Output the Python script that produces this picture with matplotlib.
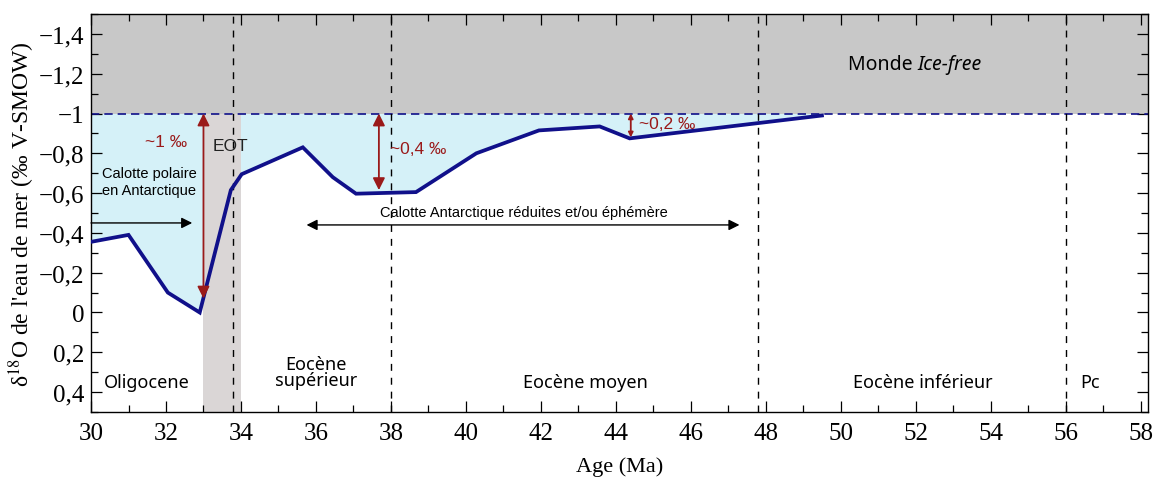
import matplotlib
matplotlib.use("Agg")
import matplotlib.pyplot as plt
from matplotlib.ticker import MultipleLocator, FixedLocator, FixedFormatter

# ---- data ----
age = [30.0, 31.0, 32.05, 32.9, 33.73, 34.02, 35.65, 36.45, 37.07, 38.67, 40.28, 41.95, 43.57, 44.37, 49.5]
d18o = [-0.355, -0.39, -0.10, 0.0, -0.615, -0.695, -0.83, -0.68, -0.597, -0.605, -0.80, -0.915, -0.935, -0.875, -0.99]

x_ticks = [30, 32, 34, 36, 38, 40, 42, 44, 46, 48, 50, 52, 54, 56, 58]
y_ticks = [-1.4, -1.2, -1.0, -0.8, -0.6, -0.4, -0.2, 0.0, 0.2, 0.4]
y_tick_labels = ["\u22121,4", "\u22121,2", "\u22121", "\u22120,8", "\u22120,6", "\u22120,4", "\u22120,2", "0", "0,2", "0,4"]

ice_free_level = -1.0
eot_band = (33.0, 34.0)
boundaries = [33.8, 38.0, 47.8, 56.0]

epochs = ["Oligocene", "Eoc\u00e8ne\nsup\u00e9rieur", "Eoc\u00e8ne moyen", "Eoc\u00e8ne inf\u00e9rieur", "Pc"]
epoch_x = [31.5, 36.0, 43.2, 52.2, 56.65]

# amplitude arrows
amp_x = [33.0, 37.68, 44.4]
amp_bottom = [-0.07, -0.615, -0.88]
amp_labels = ["~1 \u2030", "~0,4 \u2030", "~0,2 \u2030"]
amp_label_x = [32.0, 38.72, 45.37]
amp_label_y = [-0.86, -0.825, -0.95]

# ---- style ----
navy = "#10108a"
red = "#9a1a1a"
sans = ["Liberation Sans", "DejaVu Sans"]
epoch_font = ["Noto Sans", "DejaVu Sans"]
serif = ["Liberation Serif", "DejaVu Serif"]
plt.rcParams["mathtext.fontset"] = "stix"

fig = plt.figure(figsize=(11.58, 4.81), dpi=100)
ax = fig.add_axes([0.0786, 0.1414, 0.9128, 0.8274])

ax.set_xlim(30, 58.2)
ax.set_ylim(0.5, -1.5)

# ice-free grey zone
ax.axhspan(-1.5, ice_free_level, color="#c8c8c8", zorder=0, lw=0)
# EOT band
ax.axvspan(eot_band[0], eot_band[1], ymin=0, ymax=0.75, color="#dad6d6", zorder=0.5, lw=0)
# cyan fill between curve and -1
ax.fill_between(age, d18o, ice_free_level, color="#d5f1f8", zorder=0.4, lw=0)
# -1 dashed line
ax.axhline(ice_free_level, color=navy, ls=(0, (5, 3)), lw=1.2, zorder=2)
# boundaries
for b in boundaries:
    ax.axvline(b, color="black", ls=(0, (5, 5)), lw=1.0, zorder=2)

# main curve
ax.plot(age, d18o, color=navy, lw=2.7, zorder=4, solid_joinstyle="miter")

# amplitude arrows
for x, yb, lab, lx, ly in zip(amp_x, amp_bottom, amp_labels, amp_label_x, amp_label_y):
    short = abs(yb - ice_free_level) < 0.2
    ax.annotate("", xy=(x, yb), xytext=(x, ice_free_level),
                arrowprops=dict(arrowstyle="<|-|>", color=red, lw=1.3,
                                mutation_scale=7 if short else 18,
                                shrinkA=0, shrinkB=0), zorder=5)
    ax.text(lx, ly, lab, color=red, fontsize=12.5, family=sans, ha="center", va="center", zorder=6)

ax.text(33.72, -0.84, "EOT", fontsize=12.5, family=sans, ha="center", va="center", color="#222222")
ax.text(31.55, -0.66, "Calotte polaire\nen Antarctique", fontsize=10.5, family=sans,
        ha="center", va="center", linespacing=1.25)
ax.annotate("", xy=(32.7, -0.45), xytext=(30.0, -0.45),
            arrowprops=dict(arrowstyle="-|>", color="black", lw=1.0, mutation_scale=16,
                            shrinkA=0, shrinkB=0))
ax.annotate("", xy=(35.75, -0.44), xytext=(47.3, -0.44),
            arrowprops=dict(arrowstyle="<|-|>", color="black", lw=1.0, mutation_scale=16,
                            shrinkA=0, shrinkB=0))
ax.text(41.55, -0.505, "Calotte Antarctique r\u00e9duites et/ou \u00e9ph\u00e9m\u00e8re", fontsize=10.5,
        family=sans, ha="center", va="center")

ax.text(52.05, -1.25, "Monde ", fontsize=14, family=epoch_font, ha="right", va="center")
ax.text(52.05, -1.25, "Ice-free", fontsize=14, family=epoch_font, style="italic", ha="left", va="center")

for lab, x in zip(epochs, epoch_x):
    ax.text(x, 0.35 if "\n" not in lab else 0.30, lab, fontsize=13, family=epoch_font,
            ha="center", va="center", linespacing=0.9)

# ticks
ax.xaxis.set_major_locator(FixedLocator(x_ticks))
ax.xaxis.set_minor_locator(MultipleLocator(1))
ax.yaxis.set_major_locator(FixedLocator(y_ticks))
ax.yaxis.set_major_formatter(FixedFormatter(y_tick_labels))
ax.yaxis.set_minor_locator(MultipleLocator(0.1))
ax.tick_params(which="both", direction="in", top=True, right=True, labelsize=18)
ax.tick_params(axis="x", which="major", pad=7)
ax.tick_params(axis="y", which="major", pad=5)
ax.tick_params(which="major", length=8, width=0.9)
ax.tick_params(which="minor", length=5, width=0.9)
for lab in ax.get_xticklabels() + ax.get_yticklabels():
    lab.set_family(serif)
for s in ax.spines.values():
    s.set_linewidth(1.0)

ax.set_xlabel("Age (Ma)", fontsize=16, family=serif, labelpad=9)
ax.set_ylabel("\u03b4$^{18}$O de l'eau de mer (\u2030 V-SMOW)", fontsize=17, family=serif)
ax.yaxis.set_label_coords(-0.051, 0.5)

fig.savefig("out.png", dpi=100)
